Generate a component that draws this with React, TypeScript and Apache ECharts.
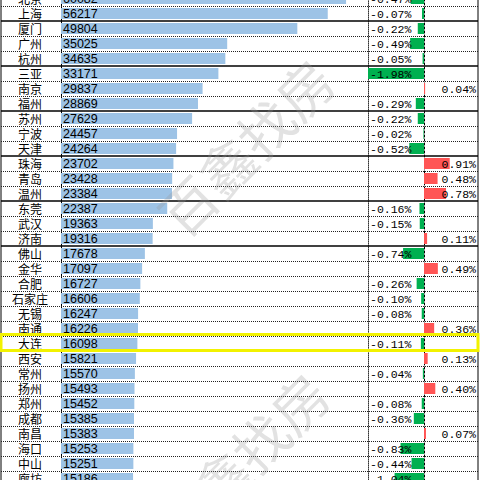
import React, { useEffect, useRef } from "react";
import * as echarts from "echarts";

const cities = ["北京","上海","厦门","广州","杭州","三亚","南京","福州","苏州","宁波","天津","珠海","青岛","温州","东莞","武汉","济南","佛山","金华","合肥","石家庄","无锡","南通","大连","西安","常州","扬州","郑州","成都","南昌","海口","中山","廊坊"];
const values = [60082,56217,49804,35025,34635,33171,29837,28869,27629,24457,24264,23702,23428,23384,22387,19363,19316,17678,17097,16727,16606,16247,16226,16098,15821,15570,15493,15452,15385,15383,15253,15251,15186];
const changes = [-0.47,-0.07,-0.22,-0.49,-0.05,-1.98,0.04,-0.29,-0.22,-0.02,-0.52,0.91,0.48,0.78,-0.16,-0.15,0.11,-0.74,0.49,-0.26,-0.10,-0.08,0.36,-0.11,0.13,-0.04,0.40,-0.08,-0.36,0.07,-0.83,-0.44,-1.04];
const groupEnds = ["上海","杭州","福州","天津","温州","济南"];
const highlight = "大连";
const watermark = "百鑫找房";

const TOP = -9;
const ROWS_H = 495;

export default function App() {
  const ref = useRef<HTMLDivElement>(null);
  useEffect(() => {
    const chart = echarts.init(ref.current!, null, { renderer: "svg" });
    const catAxis = (gridIndex: number, extra: any = {}) => ({
      type: "category",
      gridIndex,
      data: cities,
      inverse: true,
      axisTick: { show: false },
      axisLabel: { show: false },
      axisLine: { show: false },
      ...extra,
    });
    const gridBase = { top: TOP, height: ROWS_H, outerBoundsMode: "none", containLabel: false };
    const wm = (x: number, y: number) => ({
      type: "text",
      x,
      y,
      rotation: Math.PI / 4,
      z: 100,
      silent: true,
      style: {
        text: watermark,
        fill: "rgba(150,150,150,0.28)",
        font: '55px "Noto Sans CJK SC"',
        textAlign: "center",
        textVerticalAlign: "middle",
        align: "center",
        verticalAlign: "middle",
      },
    });
    const option: any = {
      animation: false,
      backgroundColor: "#fff",
      grid: [
        { ...gridBase, left: 1, width: 477, show: true, borderColor: "#000", borderWidth: 1, backgroundColor: "transparent" },
        { ...gridBase, left: 61, width: 307 },
        { ...gridBase, left: 368, width: 110 },
      ],
      xAxis: [
        { type: "value", gridIndex: 0, min: 0, max: 1, show: false },
        { type: "value", gridIndex: 1, min: 0, max: 64700, show: false },
        { type: "value", gridIndex: 2, min: -1.98, max: 1.91, show: false },
      ],
      yAxis: [
        catAxis(0),
        catAxis(1, {
          axisLine: { show: true, lineStyle: { color: "#000", width: 1 } },
          axisLabel: {
            show: true,
            interval: 0,
            align: "center",
            margin: 31,
            color: "#000",
            fontSize: 12,
            lineHeight: 13,
            fontFamily: "Noto Sans CJK SC",
          },
        }),
        catAxis(1, { position: "right", axisLine: { show: true, lineStyle: { color: "#333", width: 1, type: [1, 1] } } }),
        catAxis(2, { axisLine: { show: true, onZero: true, lineStyle: { color: "#000", width: 1, type: [2, 2] } } }),
      ],
      series: [
        {
          type: "custom",
          xAxisIndex: 0,
          yAxisIndex: 0,
          data: cities.map((c) => [0, c]),
          z: 5,
          silent: true,
          renderItem: (params: any, api: any) => {
            const idx = api.value(1);
            const c = api.coord([0, idx]);
            const h = api.size([0, 1])[1];
            const cs = params.coordSys;
            const solid = groupEnds.includes(cities[idx]);
            const y = Math.round(c[1] + h / 2) + (solid ? 0 : 0.5);
            return {
              type: "line",
              shape: { x1: cs.x, y1: y, x2: cs.x + cs.width, y2: y },
              style: solid
                ? { stroke: "#000", lineWidth: 1.6 }
                : { stroke: "#222", lineWidth: 1, lineDash: [1, 1] },
            };
          },
        },
        {
          type: "bar",
          xAxisIndex: 1,
          yAxisIndex: 1,
          data: values,
          barWidth: 11,
          itemStyle: { color: "#9DC3E6" },
          label: {
            show: true,
            position: "insideLeft",
            distance: 2,
            color: "#000",
            fontSize: 12.5,
            lineHeight: 13,
            fontFamily: "Liberation Sans",
          },
          z: 2,
        },
        {
          type: "bar",
          xAxisIndex: 2,
          yAxisIndex: 3,
          data: changes.map((v) => ({ value: v, itemStyle: { color: v < 0 ? "#00B050" : "#FF5555" } })),
          barWidth: 11,
          z: 2,
        },
        {
          type: "custom",
          xAxisIndex: 2,
          yAxisIndex: 3,
          data: changes.map((v, i) => [v, cities[i]]),
          z: 6,
          silent: true,
          renderItem: (params: any, api: any) => {
            const v = api.value(0);
            const idx = api.value(1);
            const c = api.coord([0, idx]);
            const cs = params.coordSys;
            const neg = v < 0;
            return {
              type: "text",
              x: neg ? cs.x + 2 : cs.x + cs.width - 2,
              y: c[1] + 1,
              style: {
                text: v.toFixed(2) + "%",
                textAlign: neg ? "left" : "right",
                align: neg ? "left" : "right",
                textVerticalAlign: "middle",
                verticalAlign: "middle",
                fill: "#000",
                font: '11.5px "Liberation Mono"',
              },
            };
          },
        },
        {
          type: "custom",
          xAxisIndex: 0,
          yAxisIndex: 0,
          data: [[0, highlight]],
          z: 8,
          silent: true,
          renderItem: (params: any, api: any) => {
            const c = api.coord([0, api.value(1)]);
            const h = api.size([0, 1])[1];
            const cs = params.coordSys;
            return {
              type: "rect",
              shape: { x: cs.x, y: c[1] - h / 2 - 1.5, width: cs.width, height: h + 1 },
              style: { fill: "none", stroke: "#F2F200", lineWidth: 3 },
            };
          },
        },
      ],
      graphic: [wm(245, 146), wm(240, 460)],
    };
    chart.setOption(option);
    return () => chart.dispose();
  }, []);
  return <div ref={ref} style={{ position: "fixed", left: 0, top: 0, width: 480, height: 480 }} />;
}
